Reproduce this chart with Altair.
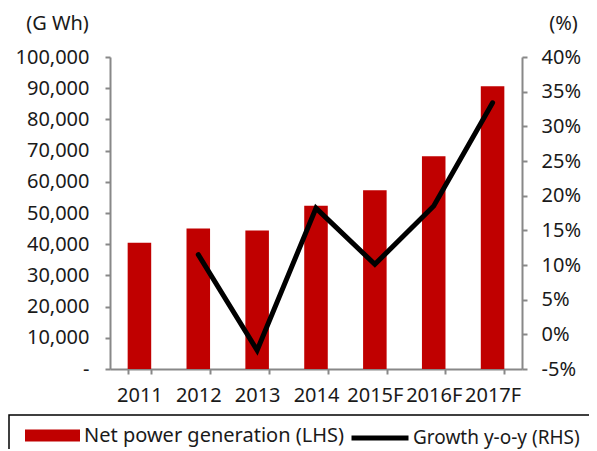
import altair as alt
import pandas as pd

years = ["2011", "2012", "2013", "2014", "2015F", "2016F", "2017F"]
generation = [40500, 45000, 44400, 52300, 57300, 68200, 90600]
growth = [None, 11.5, -2.3, 18.2, 10.1, 18.5, 33.4]

bar_name = "Net power generation (LHS)"
line_name = "Growth y-o-y (RHS)"

df = pd.DataFrame({"year": years, "gen": generation, "growth": growth,
                   "bar_s": bar_name, "line_s": line_name})

FONT = "Noto Sans"
FS = 20
TXT = "#1a1a1a"
AX = "#888888"

axis_common = dict(domainColor=AX, domainWidth=2, tickColor=AX, tickWidth=2,
                   tickSize=5, labelFontSize=FS, labelFont=FONT, labelColor=TXT,
                   grid=False, titleFont=FONT, titleFontSize=FS, titleColor=TXT,
                   titleFontWeight="normal")

x_enc = alt.X("year:N", sort=years,
              scale=alt.Scale(paddingInner=0.6, paddingOuter=0.3),
              axis=alt.Axis(title=None, labelAngle=0, tickBand="extent",
                            labelPadding=11, **axis_common))

bars = alt.Chart(df).mark_bar(color="#C00000").encode(
    x=x_enc,
    y=alt.Y("gen:Q", scale=alt.Scale(domain=[0, 100000], nice=False),
            axis=alt.Axis(title="(G Wh)", titleAngle=0, titleAlign="center",
                          titleBaseline="middle", titleX=-53, titleY=-34,
                          values=list(range(0, 100001, 10000)),
                          labelExpr="datum.value == 0 ? '-' : format(datum.value, ',')",
                          labelPadding=16, **axis_common)),
    fill=alt.Fill("bar_s:N", scale=alt.Scale(domain=[bar_name], range=["#C00000"]),
                  legend=alt.Legend(title=None, orient="none", legendX=-85, legendY=351,
                                    symbolType="M-1,-0.218H1V0.218H-1Z", symbolSize=3025,
                                    symbolStrokeWidth=0, labelLimit=400,
                                    labelFont=FONT, labelFontSize=FS, labelColor=TXT,
                                    labelOffset=4, padding=0)),
)

line = alt.Chart(df).mark_line(color="black", strokeWidth=5, strokeCap="round",
                               strokeJoin="miter").encode(
    x=alt.X("year:N", sort=years),
    y=alt.Y("growth:Q", scale=alt.Scale(domain=[-5, 40], nice=False),
            axis=alt.Axis(title="(%)", orient="right", titleAngle=0, titleAlign="center",
                          titleBaseline="middle", titleX=41, titleY=-34,
                          values=list(range(-5, 41, 5)),
                          labelExpr="datum.value + '%'",
                          labelPadding=14, **axis_common)),
    stroke=alt.Stroke("line_s:N", scale=alt.Scale(domain=[line_name], range=["black"]),
                      legend=alt.Legend(title=None, orient="none", legendX=239, legendY=350,
                                        symbolType="stroke", symbolSize=3249,
                                        symbolStrokeWidth=5, labelLimit=400,
                                        labelFont=FONT, labelFontSize=19, labelColor=TXT,
                                        labelOffset=2, padding=0)),
)

frame = alt.Chart(alt.Data(values=[{"a": 1}])).mark_rect(
    fill=None, stroke="black", strokeWidth=1.5).encode(
    x=alt.value(-101), x2=alt.value(540), y=alt.value(358), y2=alt.value(440))

chart = alt.layer(frame, bars, line).resolve_scale(
    y="independent", fill="independent", stroke="independent"
).properties(
    width=412, height=312,
    autosize=alt.AutoSizeParams(type="none"),
    padding={"left": 102, "top": 49, "right": 67, "bottom": 80},
).configure_view(stroke=None)

chart.save("out.html", embed_options={"renderer": "svg", "actions": False})
